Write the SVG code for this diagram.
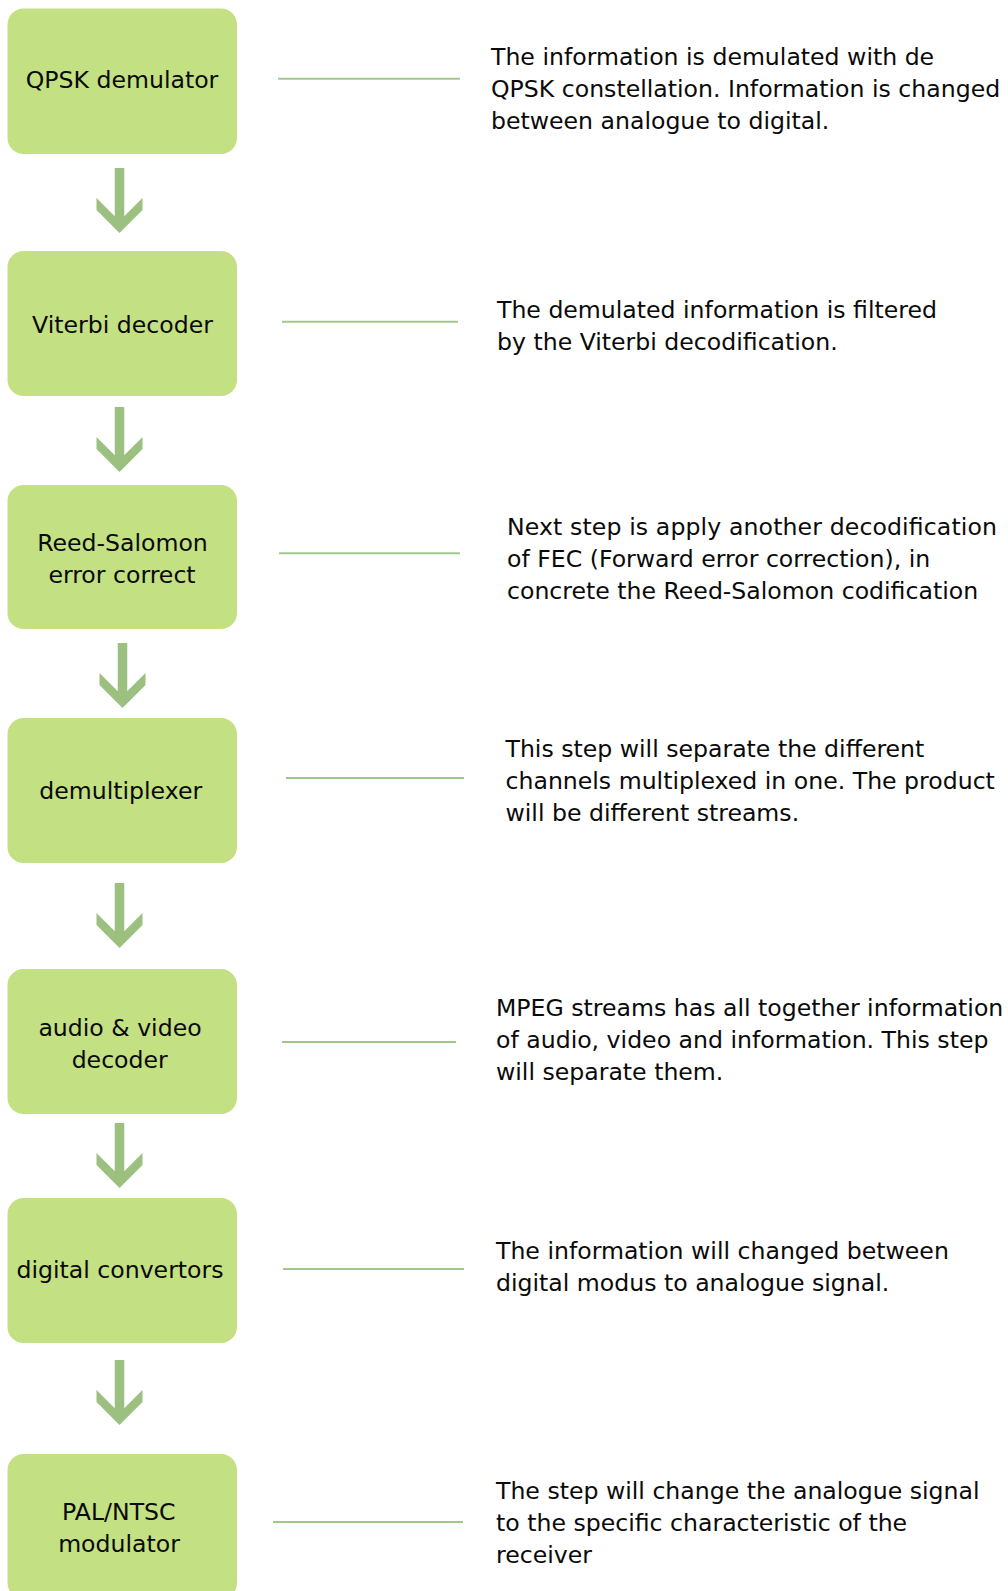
<svg xmlns="http://www.w3.org/2000/svg" width="1008" height="1591" viewBox="0 0 1008 1591">
  <style>
    .box { fill: #c3e083; }
    .lbl { font-family: "DejaVu Sans", "Liberation Sans", sans-serif; font-size: 23.6px; fill: #0a0a0a; text-anchor: middle; }
    .desc { font-family: "DejaVu Sans", "Liberation Sans", sans-serif; font-size: 23.6px; fill: #0a0a0a; }
    .lead { stroke: #a2c78e; stroke-width: 2; fill: none; }
    .down { fill: #9bc07f; }
  </style>
  <defs>
    <!-- thick downward arrow, origin at the top of the shaft -->
    <polygon id="downArrow" points="-4.75,0 4.75,0 4.75,48.25 23,30 23,42 0,65 -23,42 -23,30 -4.75,48.25"/>
  </defs>
  <rect width="1008" height="1591" fill="#ffffff"/>

  <g id="connectors">
    <use href="#downArrow" class="down" x="119.5" y="168"/>
    <use href="#downArrow" class="down" x="119.5" y="407"/>
    <use href="#downArrow" class="down" x="122.5" y="643"/>
    <use href="#downArrow" class="down" x="119.5" y="883"/>
    <use href="#downArrow" class="down" x="119.5" y="1123"/>
    <use href="#downArrow" class="down" x="119.5" y="1360"/>
    <line class="lead" x1="278" y1="78.7" x2="460" y2="78.7"/>
    <line class="lead" x1="282" y1="321.7" x2="458" y2="321.7"/>
    <line class="lead" x1="279" y1="553.3" x2="460" y2="553.3"/>
    <line class="lead" x1="286" y1="778" x2="464" y2="778"/>
    <line class="lead" x1="282" y1="1042" x2="456" y2="1042"/>
    <line class="lead" x1="283" y1="1269" x2="464" y2="1269"/>
    <line class="lead" x1="273" y1="1522" x2="463" y2="1522"/>
  </g>

  <g id="qpsk">
    <rect class="box" x="7.5" y="8.5" width="229.5" height="145.5" rx="16"/>
    <text class="lbl" x="122" y="88">QPSK demulator</text>
    <text class="desc" x="491" y="64.5">The information is demulated with de</text>
    <text class="desc" x="491" y="96.5">QPSK constellation. Information is changed</text>
    <text class="desc" x="491" y="128.5">between analogue to digital.</text>
  </g>

  <g id="viterbi">
    <rect class="box" x="7.5" y="251" width="229.5" height="145" rx="16"/>
    <text class="lbl" x="122.5" y="333">Viterbi decoder</text>
    <text class="desc" x="497" y="318">The demulated information is filtered</text>
    <text class="desc" x="497" y="350">by the Viterbi decodification.</text>
  </g>

  <g id="reedsalomon">
    <rect class="box" x="7.5" y="485" width="229.5" height="144" rx="16"/>
    <text class="lbl" x="122.5" y="551">Reed-Salomon</text>
    <text class="lbl" x="122" y="583">error correct</text>
    <text class="desc" x="507" y="534.5" textLength="490" lengthAdjust="spacing">Next step is apply another decodification</text>
    <text class="desc" x="507" y="566.5">of FEC (Forward error correction), in</text>
    <text class="desc" x="507" y="598.5">concrete the Reed-Salomon codification</text>
  </g>

  <g id="demux">
    <rect class="box" x="7.5" y="718" width="229.5" height="145" rx="16"/>
    <text class="lbl" x="120.7" y="799">demultiplexer</text>
    <text class="desc" x="505.5" y="756.5">This step will separate the different</text>
    <text class="desc" x="505.5" y="788.5">channels multiplexed in one. The product</text>
    <text class="desc" x="505.5" y="820.5">will be different streams.</text>
  </g>

  <g id="avdecoder">
    <rect class="box" x="7.5" y="969" width="229.5" height="145" rx="16"/>
    <text class="lbl" x="120" y="1036">audio &amp; video</text>
    <text class="lbl" x="119.7" y="1068">decoder</text>
    <text class="desc" x="496" y="1016">MPEG streams has all together information</text>
    <text class="desc" x="496" y="1048">of audio, video and information. This step</text>
    <text class="desc" x="496" y="1080">will separate them.</text>
  </g>

  <g id="converters">
    <rect class="box" x="7.5" y="1198" width="229.5" height="145" rx="16"/>
    <text class="lbl" x="120" y="1278">digital convertors</text>
    <text class="desc" x="496" y="1259">The information will changed between</text>
    <text class="desc" x="496" y="1291">digital modus to analogue signal.</text>
  </g>

  <g id="modulator">
    <rect class="box" x="7.5" y="1454" width="229.5" height="145" rx="16"/>
    <text class="lbl" x="118.8" y="1520">PAL/NTSC</text>
    <text class="lbl" x="119" y="1552">modulator</text>
    <text class="desc" x="496" y="1499">The step will change the analogue signal</text>
    <text class="desc" x="496" y="1531">to the specific characteristic of the</text>
    <text class="desc" x="496" y="1563">receiver</text>
  </g>
</svg>
